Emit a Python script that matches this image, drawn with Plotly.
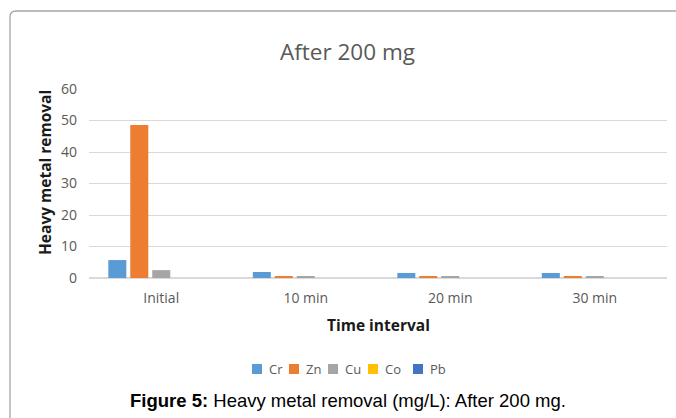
import plotly.graph_objects as go

categories = ["Initial", "10 min", "20 min", "30 min"]
series_names = ["Cr", "Zn", "Cu", "Co", "Pb"]
cr = [5.7, 1.9, 1.6, 1.6]
zn = [48.6, 0.6, 0.6, 0.6]
cu = [2.5, 0.5, 0.5, 0.5]
co = [0, 0, 0, 0]
pb = [0, 0, 0, 0]
colors = ["#5b9bd5", "#ed7d31", "#a5a5a5", "#ffc000", "#4472c4"]
y_ticks = [0, 10, 20, 30, 40, 50, 60]

W, H = 676, 418
L, R, T, B = 89, 9, 89, 140
PL, PR, PT, PB = L, W - R, T, H - B  # plot area pixel bounds


def px(x):
    return (x - PL) / (PR - PL)


def py(y):
    return (PB - y) / (PB - PT)


fig = go.Figure()
for name, vals, col in zip(series_names, [cr, zn, cu, co, pb], colors):
    fig.add_trace(go.Bar(name=name, x=categories, y=vals, marker_color=col,
                         marker_line_width=0))

gray = "#595959"
fig.update_layout(
    width=W, height=H,
    margin=dict(l=L, r=R, t=T, b=B, pad=0),
    paper_bgcolor="white", plot_bgcolor="white",
    barmode="group", bargap=0.24, bargroupgap=0.18,
    showlegend=False,
    font=dict(family="Open Sans", color=gray),
)
fig.update_xaxes(showgrid=False, showline=False, ticks="",
                 tickfont=dict(family="Open Sans", size=14, color=gray),
                 ticklabelstandoff=10)
fig.update_yaxes(range=[0, 60], tickvals=y_ticks, showgrid=True,
                 gridcolor="#d9d9d9", gridwidth=1, zeroline=True,
                 zerolinecolor="#d9d9d9", zerolinewidth=1.5,
                 showline=False, ticks="",
                 tickfont=dict(family="Open Sans", size=14, color=gray),
                 ticklabelstandoff=11)

# Frame (left + top, rounded corner)
x0, y0, r = 10, 11, 6
path = (f"M {px(x0)},{py(H + 5)} L {px(x0)},{py(y0 + r)} "
        f"Q {px(x0)},{py(y0)} {px(x0 + r)},{py(y0)} L {px(W + 5)},{py(y0)}")
fig.add_shape(type="path", xref="paper", yref="paper", path=path,
              line=dict(color="#a6a6a6", width=1.3), layer="above")

# Legend (compact, Excel style)
legend_swatch_x = [252, 289, 328, 368, 413]
for name, col, sx in zip(series_names, colors, legend_swatch_x):
    fig.add_shape(type="rect", xref="paper", yref="paper",
                  x0=px(sx), x1=px(sx + 10), y0=py(374), y1=py(364),
                  fillcolor=col, line=dict(width=0))
    fig.add_annotation(xref="paper", yref="paper", x=px(sx + 15), y=py(369),
                       xanchor="left", yanchor="middle", showarrow=False,
                       text=name, font=dict(family="Open Sans", size=13, color=gray))

annotations = [
    dict(text="After 200 mg", x=px(347), y=py(52), font=dict(family="Open Sans", size=22.5, color=gray)),
    dict(text="<b>Heavy metal removal</b>", x=px(45), y=py(173), textangle=-90,
         font=dict(family="Open Sans", size=15.5, color="#1a1a1a")),
    dict(text="<b>Time interval</b>", x=px(378), y=py(325),
         font=dict(family="Open Sans", size=15.5, color="#1a1a1a")),
    dict(text="<b>Figure 5:</b> Heavy metal removal (mg/L): After 200 mg.", x=px(348), y=py(400),
         font=dict(family="Liberation Sans", size=18.5, color="black")),
]
for a in annotations:
    fig.add_annotation(xref="paper", yref="paper", xanchor="center", yanchor="middle",
                       showarrow=False, **a)

fig.write_html("out.html")
